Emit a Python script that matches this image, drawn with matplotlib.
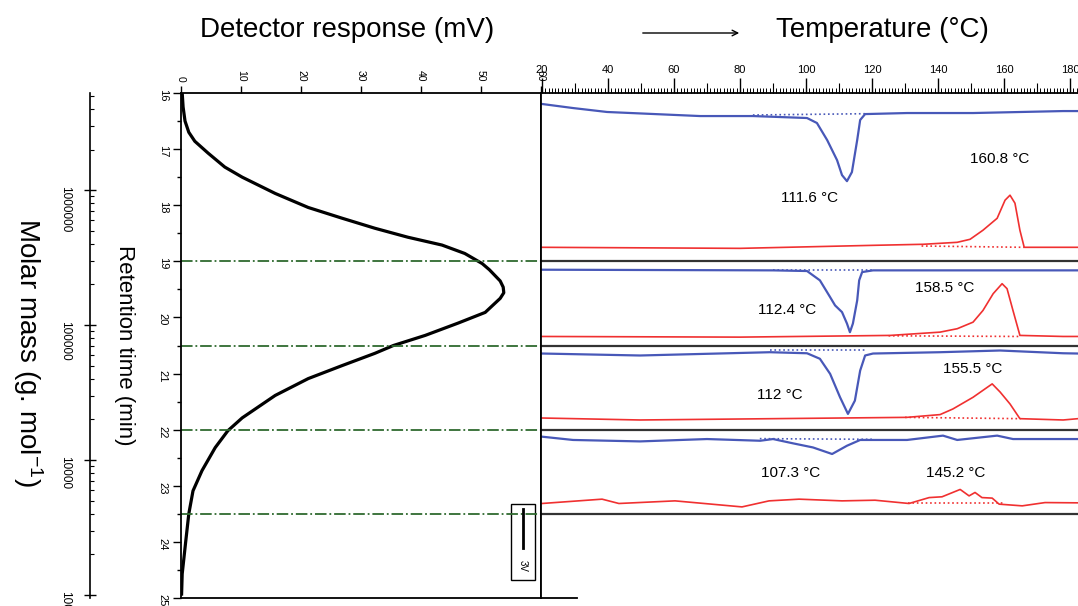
import numpy as np
import matplotlib
matplotlib.use('Agg')
import matplotlib.pyplot as plt
from matplotlib.ticker import MultipleLocator, FixedLocator, LogLocator, NullFormatter
from matplotlib.patches import Rectangle

plt.rcParams['font.family'] = ['Liberation Sans', 'DejaVu Sans']
plt.rcParams['mathtext.fontset'] = 'custom'
plt.rcParams['mathtext.rm'] = 'Liberation Sans'
plt.rcParams['mathtext.it'] = 'Liberation Sans'

# GPC trace (retention time in min, detector response in mV)
gpc_time = [16.0, 16.25, 16.5, 16.7, 16.86, 17.07, 17.32, 17.5, 17.79, 18.04, 18.23, 18.41, 18.57, 18.71,
            18.86, 19.04, 19.15, 19.25, 19.35, 19.46, 19.56, 19.66, 19.91, 20.1, 20.32, 20.5,
            20.64, 20.86, 21.09, 21.39, 21.79, 22.02, 22.32, 22.73, 23.09, 23.5, 23.98, 24.57, 24.93]
gpc_signal = [0.2, 0.35, 0.67, 1.3, 2.3, 4.5, 7.3, 10.2, 15.7, 21.2, 26.8, 32.3, 37.8, 43.5,
              47.3, 50.2, 51.4, 52.3, 53.2, 53.7, 53.8, 53.2, 50.7, 46.2, 40.7, 35.4,
              32.3, 26.8, 21.2, 15.7, 10.2, 7.8, 5.7, 3.5, 2.0, 1.3, 0.8, 0.2, 0.1]

# fraction cuts (min)
cuts = [16, 19, 20.5, 22, 23.5]

# DSC traces per fraction: temperature (C) and heat flow (mW)
cool_T = [
    [20, 29.4, 39.7, 67.9, 83.9, 100.3, 103.3, 106.4, 109.4, 110.9, 112.4, 113.9, 115.5, 116.4, 117.9, 130.6, 150.6, 177.9, 182.4],
    [20, 90, 100.3, 104.2, 107.3, 108.8, 110.9, 112.4, 113.3, 114.2, 115.5, 116.1, 117, 120.3, 182.4],
    [20, 49.7, 89.1, 100.3, 104.2, 107.3, 110.3, 112.7, 114.8, 116.4, 117.9, 120.3, 140.6, 158.8, 177.9, 182.4],
    [20, 29.4, 49.7, 70, 86.1, 90, 96.1, 102.1, 107.9, 112.4, 116.4, 130.6, 141.5, 145.8, 157.9, 162.7, 177.9, 182.4],
]
cool_hf = [
    [0.69, 0.38, 0.08, -0.23, -0.23, -0.38, -0.76, -2.06, -3.59, -4.73, -5.19, -4.5, -2.06, -0.53, -0.08, 0, 0, 0.15, 0.15],
    [0.05, 0, -0.05, -0.76, -2.04, -2.67, -3.18, -4.05, -4.71, -4.05, -2.29, -0.76, -0.13, 0, 0],
    [0, -0.15, 0.1, 0.02, -0.4, -1.55, -3.33, -4.6, -3.59, -1.3, -0.15, 0, 0.1, 0.23, 0.02, 0],
    [0, -0.25, -0.36, -0.18, -0.31, -0.18, -0.51, -0.82, -1.32, -0.69, -0.25, -0.25, 0.08, -0.25, 0.08, -0.18, -0.18, -0.18],
]
heat_T = [
    [20, 80, 120.3, 135.5, 145.8, 149.7, 153.6, 157.9, 160.3, 161.8, 163.3, 164.8, 166.1, 182.4],
    [20, 80, 125.5, 140.6, 145.8, 150.6, 153.6, 156.7, 159.4, 160.9, 162.7, 164.8, 177.9, 182.4],
    [20, 49.7, 130.6, 140.6, 144.5, 150.6, 156.4, 158.8, 161.8, 164.8, 177.9, 182.4],
    [20, 38.2, 43.3, 60.3, 80.6, 88.8, 97.9, 110.9, 120.9, 131.2, 137.3, 141.2, 146.7, 149.4, 151.2, 153.3, 156.4, 158.5, 165.5, 172.4, 182.4],
]
heat_hf = [
    [0, -0.08, 0.15, 0.23, 0.38, 0.61, 1.3, 2.21, 3.59, 3.97, 3.36, 1.3, 0, 0],
    [0, -0.05, 0.08, 0.33, 0.59, 1.09, 1.98, 3.26, 4.02, 3.64, 1.98, 0.08, 0, 0],
    [0.05, -0.1, 0.1, 0.31, 0.74, 1.63, 2.65, 2.03, 1.12, 0, -0.1, 0],
    [-0.05, 0.28, -0.05, 0.15, -0.31, 0.15, 0.28, 0.15, 0.2, -0.05, 0.4, 0.46, 1.02, 0.53, 0.79, 0.4, 0.36, -0.1, -0.23, 0.02, 0],
]
# integration baselines (T range, heat flow at ends)
cool_base_T = [[83.9, 118.5], [90, 120], [89, 118], [86, 120]]
cool_base_hf = [[-0.15, -0.05], [0, 0], [0.28, 0.28], [-0.15, -0.2]]
heat_base_T = [[135, 166], [125, 165], [130, 165], [131, 160]]
heat_base_hf = [[0.1, 0], [0.05, 0], [0.1, 0], [0, 0]]

cryst_labels = ['111.6 °C', '112.4 °C', '112 °C', '107.3 °C']
melt_labels = ['160.8 °C', '158.5 °C', '155.5 °C', '145.2 °C']

mm_ticks = [1000, 10000, 100000, 1000000]

# layout
W, H = 1078, 606
def fx(px):
    return px / W
def fy(py):
    return 1 - py / H

mw_to_min = 13.1 / 56.0            # vertical scale of the DSC traces
cool_pos = [16.357, 19.161, 20.643, 22.125]
heat_pos = [18.75, 20.339, 21.804, 23.304]
cryst_xy = [(101.2, 17.875), (94.2, 19.875), (92.1, 21.39), (95.2, 22.77)]
melt_xy = [(158.8, 17.18), (142.1, 19.48), (150.6, 20.91), (145.2, 22.77)]

blue = '#4858b8'
red = '#f03030'
green = '#2f6a2f'

fig = plt.figure(figsize=(W / 100, H / 100), dpi=100)

# ---- GPC panel
ax = fig.add_axes([fx(181), fy(598), fx(541) - fx(181), (598 - 93) / H])
ax.plot(gpc_signal, gpc_time, color='black', lw=2.3)
ax.set_xlim(0, 60)
ax.set_ylim(25, 16)
ax.xaxis.tick_top()
ax.xaxis.set_major_locator(MultipleLocator(10))
ax.yaxis.set_major_locator(MultipleLocator(1))
ax.yaxis.set_minor_locator(MultipleLocator(0.5))
ax.tick_params(axis='x', direction='out', length=5, width=1, labelsize=7.5, labelrotation=-90, pad=3)
ax.tick_params(axis='y', which='major', direction='out', length=5.5, width=1, labelsize=8,
               labelrotation=-90, pad=4)
ax.tick_params(axis='y', which='minor', direction='out', length=3, width=1)
for s in ax.spines.values():
    s.set_linewidth(1.3)
for t in cuts[1:]:
    ax.axhline(t, color=green, lw=1.3, ls='-.')

# scale bar box
bar_len = 3 * mw_to_min
ax.add_patch(Rectangle((55, 23.32), 4, 1.36, fill=False, lw=1, ec='black'))
ax.plot([57, 57], [23.41, 23.41 + bar_len], color='black', lw=2)
ax.text(57, 24.42, '3V', rotation=-90, ha='center', va='center', fontsize=7)

# ---- molar mass axis
axm = fig.add_axes([fx(90), fy(598), 0.0001, (598 - 93) / H])
axm.set_yscale('log')
axm.set_ylim(10 ** 2.978, 10 ** 6.72)
axm.patch.set_visible(False)
for k in ['right', 'top', 'bottom']:
    axm.spines[k].set_visible(False)
axm.spines['left'].set_linewidth(1.2)
axm.xaxis.set_visible(False)
axm.yaxis.set_major_locator(FixedLocator(mm_ticks))
axm.set_yticklabels([str(v) for v in mm_ticks])
axm.yaxis.set_minor_locator(LogLocator(base=10, subs=np.arange(2, 10)))
axm.yaxis.set_minor_formatter(NullFormatter())
axm.tick_params(axis='y', which='major', direction='inout', length=8, width=1, labelsize=8.5,
                labelrotation=-90, pad=10)
axm.tick_params(axis='y', which='minor', direction='in', length=3, width=0.8)

# ---- DSC panel
axd = fig.add_axes([fx(541), fy(598), 1 - fx(541), (598 - 93) / H])
axd.set_xlim(19.7, 182.4)
axd.set_ylim(25, 16)
axd.xaxis.tick_top()
axd.set_yticks([])
axd.spines['right'].set_visible(False)
axd.spines['bottom'].set_visible(False)
axd.spines['left'].set_linewidth(1.3)
axd.spines['top'].set_linewidth(1.3)
axd.xaxis.set_major_locator(MultipleLocator(20))
axd.xaxis.set_minor_locator(MultipleLocator(1))
axd.tick_params(axis='x', which='major', direction='out', length=11, width=1, labelsize=8, pad=2)
axd.tick_params(axis='x', which='minor', direction='out', length=3.5, width=0.7)
sec = axd.secondary_xaxis('top')
sec.xaxis.set_major_locator(FixedLocator(np.arange(30, 190, 20)))
sec.tick_params(axis='x', direction='out', length=7, width=0.8, labeltop=False)
sec.spines['top'].set_visible(False)
axd.axhline(25, xmin=0, xmax=36 / 537, color='black', lw=1.3, clip_on=False)

for t in cuts[1:]:
    axd.axhline(t, color='#333333', lw=1.6)

for i in range(4):
    yc = cool_pos[i] - np.array(cool_hf[i]) * mw_to_min
    yh = heat_pos[i] - np.array(heat_hf[i]) * mw_to_min
    axd.plot(cool_T[i], yc, color=blue, lw=1.6)
    axd.plot(heat_T[i], yh, color=red, lw=1.2)
    axd.plot(cool_base_T[i], cool_pos[i] - np.array(cool_base_hf[i]) * mw_to_min,
             color=blue, lw=1.2, ls=':')
    axd.plot(heat_base_T[i], heat_pos[i] - np.array(heat_base_hf[i]) * mw_to_min,
             color=red, lw=1.2, ls=':')
    axd.text(cryst_xy[i][0], cryst_xy[i][1], cryst_labels[i], ha='center', va='center', fontsize=11)
    axd.text(melt_xy[i][0], melt_xy[i][1], melt_labels[i], ha='center', va='center', fontsize=11)

# ---- titles
fig.text(fx(347), fy(30), 'Detector response (mV)', ha='center', va='center', fontsize=20)
fig.text(fx(882), fy(30), 'Temperature (°C)', ha='center', va='center', fontsize=20)
ax.annotate('', xy=(fx(742), fy(33)), xytext=(fx(640), fy(33)), xycoords='figure fraction',
            textcoords='figure fraction', arrowprops=dict(arrowstyle='->', lw=1, color='black'))
fig.text(fx(124), fy(345), 'Retention time (min)', rotation=-90, ha='center', va='center', fontsize=16)
fig.text(fx(28), fy(352), 'Molar mass (g. mol$^{-1}$)', rotation=-90, ha='center', va='center', fontsize=20)

fig.savefig('out.png', dpi=100)
